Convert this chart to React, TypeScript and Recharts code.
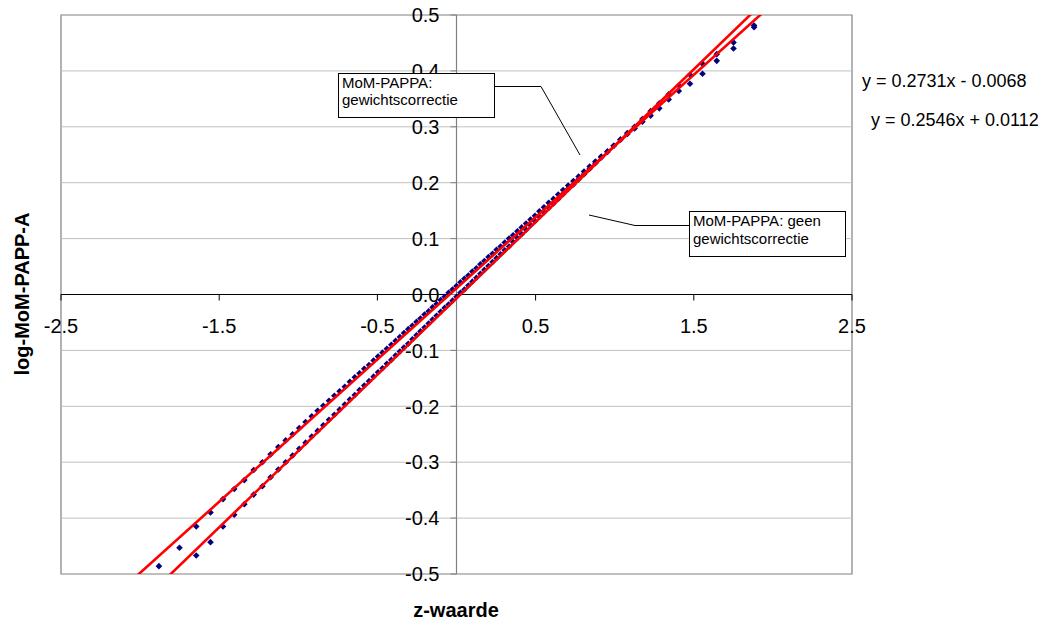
import {
  ScatterChart,
  Scatter,
  XAxis,
  YAxis,
  ReferenceLine,
  ReferenceDot,
  ReferenceArea,
} from "recharts";

// z-scores (normal quantiles) shared by both series
const zValues = [
  -1.881, -1.751, -1.645, -1.555, -1.476, -1.405, -1.341, -1.282, -1.227, -1.175,
  -1.126, -1.08, -1.036, -0.994, -0.954, -0.915, -0.878, -0.842, -0.806, -0.772,
  -0.739, -0.706, -0.674, -0.643, -0.613, -0.583, -0.553, -0.524, -0.496, -0.468,
  -0.44, -0.412, -0.385, -0.358, -0.332, -0.305, -0.279, -0.253, -0.228, -0.202,
  -0.176, -0.151, -0.126, -0.1, -0.075, -0.05, -0.025, 0,
  0.025, 0.05, 0.075, 0.1, 0.126, 0.151, 0.176, 0.202, 0.228, 0.253,
  0.279, 0.305, 0.332, 0.358, 0.385, 0.412, 0.44, 0.468, 0.496, 0.524,
  0.553, 0.583, 0.613, 0.643, 0.674, 0.706, 0.739, 0.772, 0.806, 0.842,
  0.878, 0.915, 0.954, 0.994, 1.036, 1.08, 1.126, 1.175, 1.227, 1.282,
  1.341, 1.405, 1.476, 1.555, 1.645, 1.751, 1.881,
];

// log-MoM-PAPP-A, with weight correction
const logMomWeighted = [
  -0.486, -0.453, -0.415, -0.39, -0.366, -0.348, -0.332, -0.314, -0.3, -0.286,
  -0.273, -0.261, -0.25, -0.239, -0.228, -0.218, -0.208, -0.199, -0.19, -0.181,
  -0.173, -0.165, -0.156, -0.148, -0.141, -0.133, -0.126, -0.118, -0.111, -0.104,
  -0.097, -0.09, -0.083, -0.076, -0.069, -0.062, -0.056, -0.049, -0.043, -0.036,
  -0.03, -0.023, -0.017, -0.01, -0.004, 0.003, 0.009, 0.015,
  0.022, 0.028, 0.034, 0.041, 0.047, 0.054, 0.06, 0.067, 0.073, 0.08,
  0.086, 0.093, 0.1, 0.106, 0.113, 0.12, 0.127, 0.134, 0.141, 0.149,
  0.156, 0.164, 0.171, 0.179, 0.187, 0.195, 0.203, 0.211, 0.22, 0.229,
  0.238, 0.247, 0.256, 0.266, 0.277, 0.287, 0.297, 0.309, 0.32, 0.333,
  0.349, 0.364, 0.377, 0.395, 0.418, 0.44, 0.478,
];

// log-MoM-PAPP-A, without weight correction (first two fall below the axis)
const logMomUnweighted = [
  null, null, -0.467, -0.443, -0.415, -0.394, -0.375, -0.358, -0.343, -0.327,
  -0.313, -0.3, -0.288, -0.276, -0.265, -0.254, -0.244, -0.234, -0.224, -0.215,
  -0.206, -0.197, -0.188, -0.18, -0.171, -0.163, -0.155, -0.147, -0.139, -0.132,
  -0.124, -0.117, -0.109, -0.102, -0.095, -0.088, -0.08, -0.073, -0.066, -0.059,
  -0.052, -0.045, -0.038, -0.031, -0.024, -0.018, -0.011, -0.004,
  0.003, 0.009, 0.016, 0.023, 0.03, 0.037, 0.044, 0.051, 0.058, 0.065,
  0.072, 0.079, 0.086, 0.094, 0.101, 0.108, 0.116, 0.124, 0.131, 0.139,
  0.147, 0.155, 0.163, 0.171, 0.18, 0.189, 0.197, 0.206, 0.215, 0.225,
  0.235, 0.245, 0.255, 0.266, 0.277, 0.289, 0.3, 0.314, 0.328, 0.342,
  0.358, 0.374, 0.393, 0.413, 0.43, 0.451, 0.481,
];

const xTicks = [-2.5, -1.5, -0.5, 0.5, 1.5, 2.5];
const yTicks = [-0.5, -0.4, -0.3, -0.2, -0.1, 0, 0.1, 0.2, 0.3, 0.4, 0.5];

// linear trendlines
const trendSlopes = [0.2731, 0.2546];
const trendIntercepts = [-0.0068, 0.0112];
const trendSpan = [-2.5, 2.5];
const equations = ["y = 0.2731x - 0.0068", "y = 0.2546x + 0.0112"];

const toPoints = (vals: (number | null)[]) =>
  zValues
    .map((z, i) => ({ z, v: vals[i] }))
    .filter((p) => p.v !== null);

const trendData = (k: number) =>
  trendSpan.map((z) => ({ z, v: trendSlopes[k] * z + trendIntercepts[k] }));

const Diamond = (p: any) => {
  const { cx, cy } = p;
  const r = 3.3;
  return (
    <polygon
      points={`${cx},${cy - r} ${cx + r},${cy} ${cx},${cy + r} ${cx - r},${cy}`}
      fill="#000080"
    />
  );
};

const font = "'Liberation Sans', Arial, sans-serif";

export default function App() {
  return (
    <div
      style={{
        position: "absolute",
        left: 0,
        top: 0,
        width: 1045,
        height: 620,
        background: "#fff",
        fontFamily: font,
      }}
    >
      <ScatterChart
        width={1045}
        height={620}
        margin={{ top: 15, right: 193, bottom: 46, left: 61 }}
      >
        <XAxis
          type="number"
          dataKey="z"
          domain={[-2.5, 2.5]}
          allowDataOverflow
          hide
        />
        <YAxis
          type="number"
          dataKey="v"
          domain={[-0.5, 0.5]}
          allowDataOverflow
          hide
        />

        {yTicks
          .filter((v) => v !== 0 && Math.abs(v) !== 0.5)
          .map((v) => (
            <ReferenceLine key={"g" + v} y={v} stroke="#c0c0c0" strokeWidth={1} />
          ))}
        <ReferenceArea
          x1={-2.5}
          x2={2.5}
          y1={-0.5}
          y2={0.5}
          fill="none"
          fillOpacity={0}
          stroke="#808080"
          strokeWidth={1.2}
        />
        <ReferenceLine x={0} stroke="#808080" strokeWidth={1.2} />
        <ReferenceLine y={0} stroke="#000" strokeWidth={1.2} />

        {yTicks.map((v) => (
          <ReferenceDot
            key={"yt" + v}
            x={0}
            y={v}
            r={0}
            shape={(p: any) => (
              <g>
                <line x1={p.cx - 6} y1={p.cy} x2={p.cx} y2={p.cy} stroke="#808080" />
                <text
                  x={p.cx - 17}
                  y={p.cy}
                  dy="0.36em"
                  textAnchor="end"
                  fontSize={20}
                  fontFamily={font}
                  fill="#000"
                >
                  {v.toFixed(1)}
                </text>
              </g>
            )}
          />
        ))}
        {xTicks.map((v) => (
          <ReferenceDot
            key={"xt" + v}
            x={v}
            y={0}
            r={0}
            shape={(p: any) => (
              <g>
                <line x1={p.cx} y1={p.cy} x2={p.cx} y2={p.cy + 6} stroke="#000" />
                <text
                  x={p.cx}
                  y={p.cy + 38}
                  textAnchor="middle"
                  fontSize={20}
                  fontFamily={font}
                  fill="#000"
                >
                  {v.toFixed(1)}
                </text>
              </g>
            )}
          />
        ))}

        <Scatter
          name="MoM-PAPPA: gewichtscorrectie"
          data={toPoints(logMomWeighted)}
          shape={Diamond}
          isAnimationActive={false}
        />
        <Scatter
          name="MoM-PAPPA: geen gewichtscorrectie"
          data={toPoints(logMomUnweighted)}
          shape={Diamond}
          isAnimationActive={false}
        />
        {[0, 1].map((k) => (
          <Scatter
            key={"trend" + k}
            data={trendData(k)}
            line={{ stroke: "#ff0000", strokeWidth: 2.6 }}
            lineType="joint"
            shape={() => <g />}
            isAnimationActive={false}
          />
        ))}
      </ScatterChart>

      <svg
        width={1045}
        height={620}
        style={{ position: "absolute", left: 0, top: 0, pointerEvents: "none" }}
        fontFamily={font}
      >
        <text
          transform="translate(22,294) rotate(-90)"
          textAnchor="middle"
          dominantBaseline="central"
          fontSize={20}
          fontWeight="bold"
        >
          log-MoM-PAPP-A
        </text>
        <text x={456} y={610} textAnchor="middle" dominantBaseline="central" fontSize={20} fontWeight="bold">
          z-waarde
        </text>

        <polyline points="494,86.5 541,86.5 580,155" fill="none" stroke="#000" strokeWidth={1} />
        <rect x={338.5} y={73.5} width={156} height={44} fill="#fff" stroke="#000" strokeWidth={1} />
        <text x={342} y={88} fontSize={15}>MoM-PAPPA:</text>
        <text x={342} y={105} fontSize={15}>gewichtscorrectie</text>

        <polyline points="689,225.5 635,225.5 589,215" fill="none" stroke="#000" strokeWidth={1} />
        <rect x={689.5} y={211.5} width={156} height={45} fill="#fff" stroke="#000" strokeWidth={1} />
        <text x={693} y={226} fontSize={15}>MoM-PAPPA: geen</text>
        <text x={693} y={244} fontSize={15}>gewichtscorrectie</text>

        <text x={862} y={81} dominantBaseline="central" fontSize={18}>{equations[0]}</text>
        <text x={871} y={120} dominantBaseline="central" fontSize={18}>{equations[1]}</text>
      </svg>
    </div>
  );
}
